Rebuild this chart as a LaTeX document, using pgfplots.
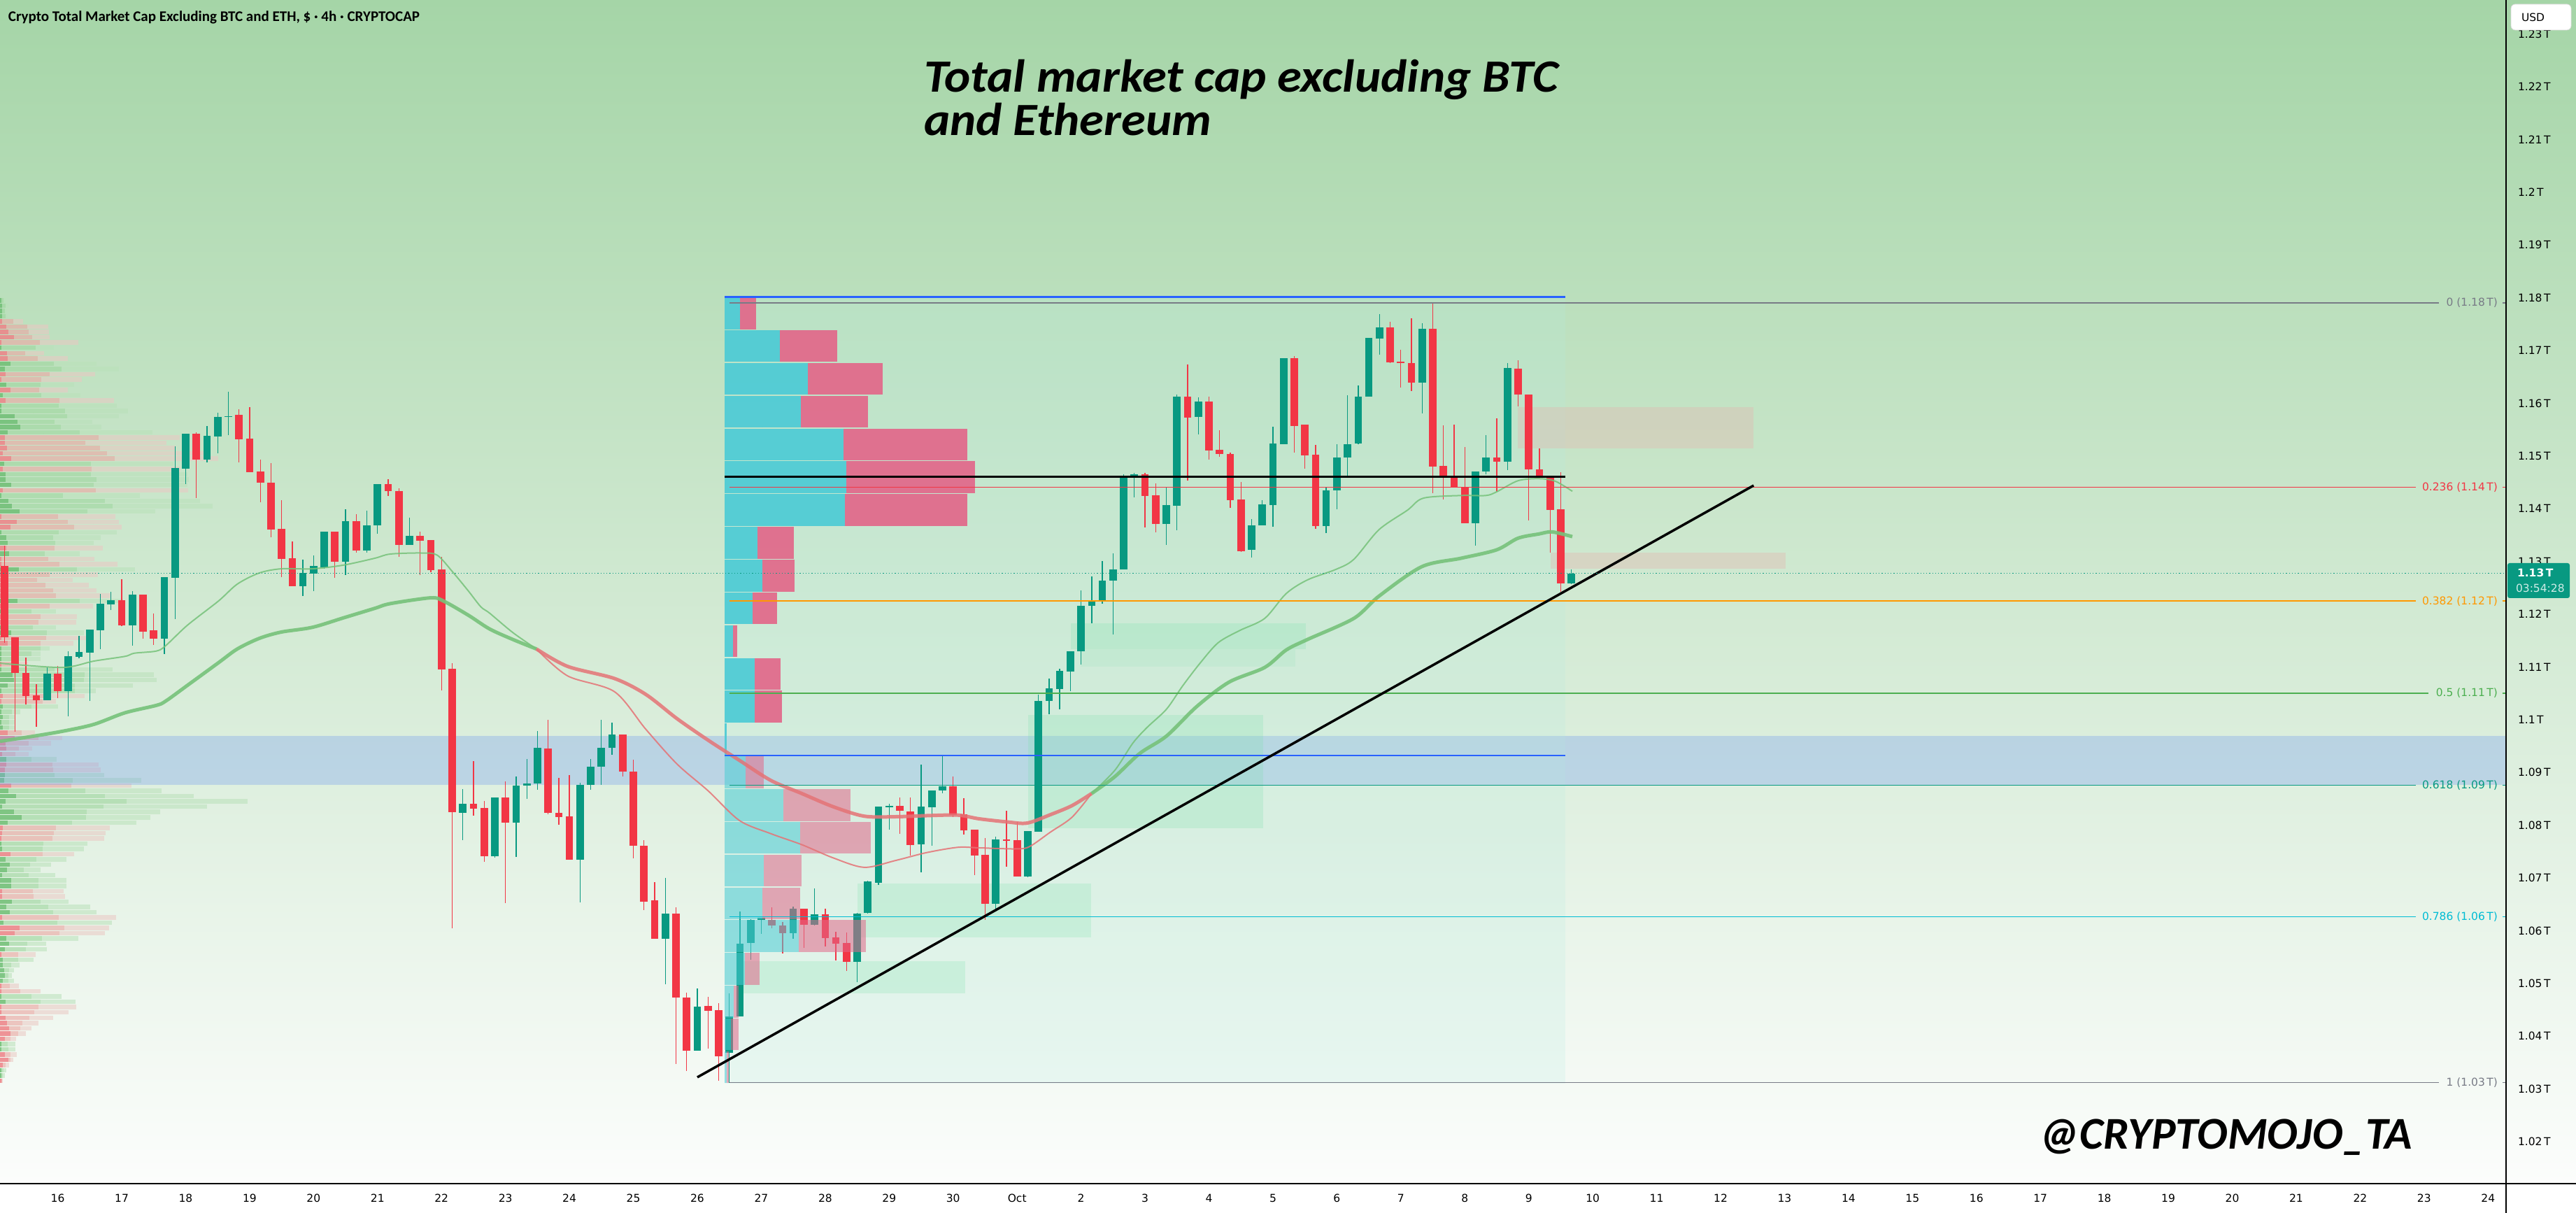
\documentclass[border=0pt]{standalone}
\usepackage{pgfplots}
\pgfplotsset{compat=1.18}
\usepackage{pgfplotstable}
\usepackage{fontspec}
\setmainfont{DejaVu Sans}
\newfontfamily\carlito{Carlito}
\definecolor{tvgreen}{RGB}{8,153,129}
\definecolor{tvred}{RGB}{242,54,69}
\definecolor{bgtop}{RGB}{165,213,167}
\definecolor{bgbot}{RGB}{252,253,252}
\definecolor{band}{RGB}{108,151,242}
\definecolor{magreen}{RGB}{118,194,122}
\definecolor{mared}{RGB}{229,115,118}
\definecolor{pcyan}{RGB}{77,203,213}
\definecolor{ppink}{RGB}{226,104,138}
\definecolor{fvg}{RGB}{120,225,170}
\definecolor{tanbox}{RGB}{230,180,175}
\definecolor{tvblue}{RGB}{41,98,255}
\definecolor{fibgrey}{RGB}{120,123,134}
\definecolor{fibred}{RGB}{242,54,69}
\definecolor{fiborange}{RGB}{255,152,0}
\definecolor{fibgreen}{RGB}{76,175,80}
\definecolor{fibteal}{RGB}{8,153,129}
\definecolor{fibcyan}{RGB}{0,188,212}
\definecolor{gDark}{RGB}{110,190,115}
\definecolor{gMid}{RGB}{160,215,160}
\definecolor{gLight}{RGB}{185,225,185}
\definecolor{rDark}{RGB}{238,130,135}
\definecolor{rMid}{RGB}{235,170,165}
\definecolor{rLight}{RGB}{235,200,195}

\pgfplotstableread{
n o h l c
-1 1.1037 1.1099 1.1037 1.1087
1 1.1054 1.1130 1.1007 1.1121
2 1.1119 1.1159 1.1116 1.1129
3 1.1127 1.1171 1.1035 1.1171
4 1.1170 1.1238 1.1133 1.1220
5 1.1219 1.1242 1.1208 1.1226
7 1.1179 1.1244 1.1140 1.1237
10 1.1153 1.1271 1.1124 1.1271
11 1.1269 1.1518 1.1191 1.1477
12 1.1476 1.1542 1.1447 1.1542
14 1.1493 1.1557 1.1488 1.1538
15 1.1537 1.1582 1.1505 1.1574
16 1.1574 1.1622 1.1539 1.1576
23 1.1253 1.1303 1.1235 1.1278
24 1.1277 1.1312 1.1244 1.1291
25 1.1289 1.1357 1.1286 1.1357
27 1.1300 1.1399 1.1274 1.1376
29 1.1321 1.1396 1.1317 1.1368
30 1.1368 1.1447 1.1353 1.1447
33 1.1332 1.1383 1.1332 1.1348
38 1.0824 1.0869 1.0772 1.0841
41 1.0741 1.0853 1.0738 1.0853
43 1.0805 1.0892 1.0740 1.0875
44 1.0875 1.0925 1.0850 1.0879
45 1.0879 1.0979 1.0867 1.0946
49 1.0735 1.0880 1.0654 1.0877
50 1.0876 1.0926 1.0867 1.0911
51 1.0911 1.1000 1.0877 1.0946
52 1.0947 1.0994 1.0933 1.0972
57 1.0585 1.0700 1.0498 1.0632
60 1.0372 1.0490 1.0372 1.0456
63 1.0368 1.0481 1.0312 1.0438
64 1.0438 1.0637 1.0438 1.0576
65 1.0576 1.0622 1.0545 1.0620
66 1.0620 1.0624 1.0594 1.0624
69 1.0595 1.0645 1.0584 1.0642
71 1.0611 1.0680 1.0610 1.0631
75 1.0541 1.0633 1.0502 1.0633
76 1.0633 1.0695 1.0633 1.0693
77 1.0691 1.0835 1.0687 1.0835
78 1.0834 1.0840 1.0791 1.0837
81 1.0763 1.0915 1.0710 1.0835
82 1.0834 1.0866 1.0761 1.0866
83 1.0866 1.0931 1.0860 1.0874
88 1.0651 1.0778 1.0637 1.0773
91 1.0703 1.0789 1.0701 1.0789
92 1.0787 1.1048 1.0787 1.1036
93 1.1036 1.1078 1.1010 1.1059
94 1.1058 1.1097 1.1020 1.1092
95 1.1091 1.1130 1.1054 1.1130
96 1.1130 1.1245 1.1104 1.1216
97 1.1216 1.1271 1.1183 1.1225
98 1.1225 1.1301 1.1220 1.1264
99 1.1264 1.1316 1.1161 1.1285
100 1.1285 1.1465 1.1285 1.1462
101 1.1462 1.1468 1.1421 1.1465
104 1.1371 1.1441 1.1332 1.1407
105 1.1406 1.1617 1.1359 1.1613
107 1.1574 1.1611 1.1541 1.1603
112 1.1322 1.1380 1.1308 1.1369
113 1.1369 1.1416 1.1369 1.1408
114 1.1407 1.1555 1.1366 1.1523
115 1.1523 1.1685 1.1523 1.1685
119 1.1367 1.1441 1.1354 1.1435
120 1.1435 1.1522 1.1399 1.1497
121 1.1497 1.1615 1.1460 1.1523
122 1.1523 1.1634 1.1523 1.1613
123 1.1613 1.1724 1.1613 1.1724
124 1.1723 1.1769 1.1692 1.1744
128 1.1639 1.1752 1.1580 1.1741
133 1.1372 1.1470 1.1330 1.1470
134 1.1470 1.1539 1.1465 1.1497
136 1.1489 1.1676 1.1473 1.1667
142 1.1259 1.1285 1.1257 1.1277
}\gcandles

\pgfplotstableread{
n o h l c
-5 1.1292 1.1330 1.1145 1.1156
-4 1.1156 1.1156 1.0977 1.1088
-3 1.1088 1.1118 1.1029 1.1045
-2 1.1046 1.1067 1.0987 1.1037
0 1.1087 1.1102 1.1041 1.1054
6 1.1226 1.1267 1.1178 1.1179
8 1.1237 1.1237 1.1154 1.1167
9 1.1169 1.1201 1.1142 1.1153
13 1.1542 1.1545 1.1420 1.1493
17 1.1578 1.1589 1.1488 1.1532
18 1.1533 1.1593 1.1469 1.1469
19 1.1471 1.1493 1.1412 1.1450
20 1.1450 1.1487 1.1346 1.1360
21 1.1362 1.1416 1.1271 1.1305
22 1.1306 1.1338 1.1253 1.1253
26 1.1357 1.1357 1.1269 1.1300
28 1.1376 1.1389 1.1317 1.1321
31 1.1447 1.1456 1.1424 1.1433
32 1.1434 1.1439 1.1309 1.1332
34 1.1348 1.1356 1.1274 1.1339
35 1.1341 1.1341 1.1280 1.1284
36 1.1285 1.1309 1.1056 1.1095
37 1.1096 1.1107 1.0605 1.0824
39 1.0841 1.0922 1.0818 1.0831
40 1.0833 1.0846 1.0730 1.0741
42 1.0853 1.0883 1.0652 1.0805
46 1.0946 1.1000 1.0821 1.0824
47 1.0824 1.0890 1.0801 1.0816
48 1.0817 1.0895 1.0735 1.0735
53 1.0972 1.0972 1.0892 1.0901
54 1.0901 1.0924 1.0737 1.0761
55 1.0761 1.0772 1.0639 1.0655
56 1.0657 1.0692 1.0585 1.0585
58 1.0632 1.0644 1.0347 1.0473
59 1.0473 1.0483 1.0334 1.0372
61 1.0457 1.0474 1.0376 1.0448
62 1.0449 1.0462 1.0315 1.0362
67 1.0620 1.0645 1.0604 1.0610
68 1.0610 1.0616 1.0557 1.0595
70 1.0642 1.0642 1.0568 1.0611
72 1.0631 1.0642 1.0570 1.0586
73 1.0587 1.0598 1.0543 1.0576
74 1.0577 1.0597 1.0524 1.0541
79 1.0837 1.0853 1.0784 1.0827
80 1.0826 1.0853 1.0743 1.0763
84 1.0874 1.0892 1.0816 1.0819
85 1.0821 1.0851 1.0782 1.0790
86 1.0791 1.0791 1.0705 1.0743
87 1.0744 1.0775 1.0620 1.0651
89 1.0773 1.0827 1.0721 1.0770
90 1.0771 1.0806 1.0703 1.0703
102 1.1465 1.1468 1.1364 1.1424
103 1.1425 1.1448 1.1355 1.1371
106 1.1613 1.1674 1.1453 1.1573
108 1.1603 1.1613 1.1493 1.1511
109 1.1512 1.1549 1.1498 1.1504
110 1.1504 1.1507 1.1401 1.1416
111 1.1417 1.1451 1.1318 1.1320
116 1.1685 1.1690 1.1506 1.1557
117 1.1559 1.1559 1.1476 1.1501
118 1.1503 1.1521 1.1362 1.1367
125 1.1744 1.1755 1.1676 1.1678
126 1.1679 1.1701 1.1630 1.1676
127 1.1676 1.1761 1.1623 1.1639
129 1.1741 1.1789 1.1429 1.1480
130 1.1481 1.1558 1.1418 1.1459
131 1.1459 1.1559 1.1442 1.1442
132 1.1442 1.1517 1.1372 1.1372
135 1.1497 1.1572 1.1432 1.1489
137 1.1666 1.1681 1.1594 1.1616
138 1.1616 1.1616 1.1378 1.1474
139 1.1475 1.1514 1.1460 1.1460
140 1.1462 1.1462 1.1317 1.1398
141 1.1399 1.1469 1.1242 1.1259
}\rcandles

% visible-range volume profile (lengths in screen px from left edge)
\pgfplotstableread{
p a b c
1.1795 2 5 8
1.1785 3 8 12
1.1775 3 7 9
1.1765 3 8 11
1.1705 2 51 77
1.1675 15 77 138
1.1665 7 88 170
1.1635 9 58 106
1.1615 4 59 115
1.1595 1 84 167
1.1585 1 93 183
1.1575 21 96 170
1.1565 25 78 132
1.1555 29 87 145
1.1545 11 114 218
1.1485 6 130 248
1.1465 8 130 268
1.1455 8 138 270
1.1445 16 134 268
1.1425 2 90 200
1.1415 12 150 286
1.1405 17 161 304
1.1395 28 125 222
1.1355 1 84 167
1.1345 9 76 144
1.1335 11 79 134
1.1315 13 64 114
1.1285 27 110 193
1.1225 25 114 176
1.1205 2 45 80
1.1175 2 47 80
1.1165 16 67 120
1.1135 2 58 71
1.1125 2 45 58
1.1115 2 27 58
1.1095 2 78 161
1.1085 18 121 220
1.1075 20 120 224
1.1065 11 107 190
1.1055 2 107 137
1.1025 4 45 83
1.1015 2 17 29
1.1005 4 13 21
1.0995 2 13 21
1.0985 4 13 21
1.0925 9 45 81
1.0895 7 78 149
1.0885 6 104 202
1.0865 12 122 231
1.0855 23 150 277
1.0845 8 181 354
1.0835 3 148 296
1.0825 20 124 229
1.0815 31 123 215
1.0805 11 103 195
1.0765 1 62 125
1.0755 3 61 120
1.0735 8 52 95
1.0725 14 43 73
1.0715 10 34 58
1.0705 3 41 79
1.0695 16 55 95
1.0685 16 55 95
1.0655 17 58 98
1.0645 9 69 129
1.0635 14 76 138
1.0615 5 82 160
1.0585 9 60 112
1.0575 13 39 66
1.0565 7 37 67
1.0545 4 26 48
1.0535 4 16 28
1.0525 6 13 20
1.0515 7 12 17
1.0505 4 12 20
1.0475 2 45 88
1.0465 8 58 108
1.0385 1 11 22
1.0375 2 12 22
1.0335 1 5 9
1.0325 1 4 7
}\gprof

\pgfplotstableread{
p a b c
1.1755 3 19 33
1.1745 9 39 69
1.1735 12 41 70
1.1725 20 46 71
1.1715 1 57 112
1.1695 10 36 63
1.1685 11 54 97
1.1655 8 71 136
1.1645 2 59 117
1.1625 15 56 97
1.1605 8 85 163
1.1535 7 141 257
1.1525 7 122 238
1.1515 10 143 251
1.1505 4 153 295
1.1495 16 164 312
1.1475 4 131 258
1.1435 4 137 269
1.1385 2 83 165
1.1375 24 97 170
1.1365 15 106 174
1.1325 9 78 147
1.1305 2 69 135
1.1295 1 85 168
1.1275 2 71 140
1.1265 2 53 104
1.1255 2 65 127
1.1245 2 76 138
1.1235 2 80 158
1.1215 2 71 133
1.1195 2 58 110
1.1185 2 55 109
1.1155 2 66 125
1.1145 11 58 105
1.1105 1 18 40
1.1045 4 63 121
1.1035 2 61 80
1.0975 11 31 50
1.0965 21 55 89
1.0955 8 41 73
1.0945 9 27 46
1.0935 3 22 41
1.0915 9 75 141
1.0905 7 76 144
1.0875 16 102 188
1.0795 4 80 157
1.0785 3 77 151
1.0775 1 75 149
1.0745 15 61 106
1.0675 3 47 91
1.0665 3 48 93
1.0625 3 84 166
1.0605 28 92 156
1.0595 21 85 150
1.0555 1 26 51
1.0495 1 14 27
1.0485 1 29 58
1.0455 2 55 109
1.0445 1 49 98
1.0435 8 42 76
1.0425 10 32 55
1.0415 13 29 45
1.0405 15 26 37
1.0395 7 15 23
1.0365 7 15 24
1.0355 12 15 19
1.0345 4 8 13
1.0315 1 2 4
}\rprof

% fixed-range volume profile (screen px: start, buy end, sell end)
\pgfplotstableread{
p a b c
1.17704 1036 1058 1081
1.17083 1036 1115 1197
1.16461 1036 1155 1262
1.15840 1036 1145 1241
1.15218 1036 1206 1383
1.14597 1036 1210 1394
1.13975 1036 1208 1383
1.13354 1036 1083 1135
1.12732 1036 1090 1136
1.12111 1036 1076 1111
1.11489 1036 1048 1054
1.10868 1036 1079 1116
1.10246 1036 1079 1118
1.09625 1036 1039 1039
}\frupper
\pgfplotstableread{
p a b c
1.09003 1036 1066 1092
1.08382 1036 1120 1216
1.07760 1036 1144 1245
1.07139 1036 1092 1146
1.06517 1036 1090 1144
1.05896 1036 1142 1238
1.05275 1036 1065 1086
1.04653 1036 1049 1056
1.04032 1036 1045 1056
1.03410 1036 1039 1042
}\frlower

\pgfplotsset{
  hbar/.style n args={3}{draw=none, mark=none, forget plot,
    error bars/.cd, x dir=both, x explicit, error mark=none,
    error bar style={line width=#1, draw=#2, opacity=#3}},
  vbar/.style n args={2}{draw=none, mark=none, forget plot,
    error bars/.cd, y dir=both, y explicit, error mark=none,
    error bar style={line width=#1, draw=#2}},
}

\begin{document}
\begin{tikzpicture}[x=1pt,y=1pt]
\fill[white] (0,-8.4) rectangle (736.6,338.4);
\shade[top color=bgtop, bottom color=bgbot] (0,0) rectangle (736.6,338.4);
\begin{axis}[
  at={(0,0)}, anchor=south west, scale only axis,
  width=716.6pt, height=338.4pt,
  xmin=-5.42, xmax=229.69, ymin=1.01204, ymax=1.23645,
  axis line style={draw=none}, major tick length=0pt, tick style={draw=none},
  xtick={0,6,...,228},
  xticklabels={16,17,18,19,20,21,22,23,24,25,26,27,28,29,30,Oct,2,3,4,5,6,7,8,9,10,11,12,13,14,15,16,17,18,19,20,21,22,23,24},
  ytick={1.02,1.03,1.04,1.05,1.06,1.07,1.08,1.09,1.10,1.11,1.12,1.13,1.14,1.15,1.16,1.17,1.18,1.19,1.20,1.21,1.22,1.23},
  yticklabels={1.02\,T,1.03\,T,1.04\,T,1.05\,T,1.06\,T,1.07\,T,1.08\,T,1.09\,T,1.1\,T,1.11\,T,1.12\,T,1.13\,T,1.14\,T,1.15\,T,1.16\,T,1.17\,T,1.18\,T,1.19\,T,1.2\,T,1.21\,T,1.22\,T,1.23\,T},
  yticklabel pos=right,
  ticklabel style={font=\fontsize{3.1}{3.8}\selectfont, text=black},
  yticklabel style={anchor=west, inner sep=0pt, xshift=3.2pt},
  xticklabel style={anchor=center, inner sep=0pt, yshift=-4.2pt},
  clip=true,
]
% left visible-range profile
\addplot[hbar={1.3pt}{gLight}{0.55}] table[y=p, x expr={((\thisrow{b}+\thisrow{c})/2-82.6)/15.24}, x error expr={(\thisrow{c}-\thisrow{b})/30.48}] {\gprof};
\addplot[hbar={1.3pt}{gMid}{0.65}] table[y=p, x expr={((\thisrow{a}+\thisrow{b})/2-82.6)/15.24}, x error expr={(\thisrow{b}-\thisrow{a})/30.48}] {\gprof};
\addplot[hbar={1.3pt}{gDark}{0.85}] table[y=p, x expr={(\thisrow{a}/2-82.6)/15.24}, x error expr={\thisrow{a}/30.48}] {\gprof};
\addplot[hbar={1.3pt}{rLight}{0.55}] table[y=p, x expr={((\thisrow{b}+\thisrow{c})/2-82.6)/15.24}, x error expr={(\thisrow{c}-\thisrow{b})/30.48}] {\rprof};
\addplot[hbar={1.3pt}{rMid}{0.65}] table[y=p, x expr={((\thisrow{a}+\thisrow{b})/2-82.6)/15.24}, x error expr={(\thisrow{b}-\thisrow{a})/30.48}] {\rprof};
\addplot[hbar={1.3pt}{rDark}{0.85}] table[y=p, x expr={(\thisrow{a}/2-82.6)/15.24}, x error expr={\thisrow{a}/30.48}] {\rprof};

% blue support band
\addplot[draw=none, fill=band, fill opacity=0.3, forget plot] coordinates {(-5.42,1.0969) (229.69,1.0969) (229.69,1.0876) (-5.42,1.0876)};

% fixed range background
\addplot[draw=none, fill={rgb,255:red,180;green,235;blue,225}, fill opacity=0.2, forget plot] coordinates {(62.56,1.1801) (141.43,1.1801) (141.43,1.0310) (62.56,1.0310)};

% FVG zones
\addplot[draw=none, fill=fvg, fill opacity=0.22, forget plot] coordinates {(95.04,1.11828) (117.09,1.11828) (117.09,1.11337) (95.04,1.11337)};
\addplot[draw=none, fill=fvg, fill opacity=0.12, forget plot] coordinates {(95.96,1.11337) (116.1,1.11337) (116.1,1.11000) (95.96,1.11000)};
\addplot[draw=none, fill=fvg, fill opacity=0.22, forget plot] coordinates {(91.04,1.10090) (113.08,1.10090) (113.08,1.07942) (91.04,1.07942)};
\addplot[draw=none, fill=fvg, fill opacity=0.22, forget plot] coordinates {(75.03,1.06894) (96.94,1.06894) (96.94,1.05873) (75.03,1.05873)};
\addplot[draw=none, fill=fvg, fill opacity=0.22, forget plot] coordinates {(64.14,1.05422) (85.13,1.05422) (85.13,1.04812) (64.14,1.04812)};
% supply boxes
\addplot[draw=none, fill=tanbox, fill opacity=0.35, forget plot] coordinates {(136.97,1.15926) (159.08,1.15926) (159.08,1.15143) (136.97,1.15143)};
\addplot[draw=none, fill=tanbox, fill opacity=0.35, forget plot] coordinates {(140.05,1.13167) (162.1,1.13167) (162.1,1.12862) (140.05,1.12862)};

% candles
\addplot[vbar={0.26pt}{tvgreen}] table[x=n, y expr={(\thisrow{h}+\thisrow{l})/2}, y error expr={(\thisrow{h}-\thisrow{l})/2}] {\gcandles};
\addplot[vbar={2.14pt}{tvgreen}] table[x=n, y expr={(\thisrow{o}+\thisrow{c})/2}, y error expr={max(abs(\thisrow{c}-\thisrow{o})/2,0.0001)}] {\gcandles};
\addplot[vbar={0.26pt}{tvred}] table[x=n, y expr={(\thisrow{h}+\thisrow{l})/2}, y error expr={(\thisrow{h}-\thisrow{l})/2}] {\rcandles};
\addplot[vbar={2.14pt}{tvred}] table[x=n, y expr={(\thisrow{o}+\thisrow{c})/2}, y error expr={max(abs(\thisrow{c}-\thisrow{o})/2,0.0001)}] {\rcandles};

% fixed range profile
\addplot[hbar={9.1pt}{pcyan}{0.92}] table[y=p, x expr={((\thisrow{a}+\thisrow{b})/2-82.6)/15.24}, x error expr={(\thisrow{b}-\thisrow{a})/30.48}] {\frupper};
\addplot[hbar={9.1pt}{ppink}{0.92}] table[y=p, x expr={((\thisrow{b}+\thisrow{c})/2-82.6)/15.24}, x error expr={(\thisrow{c}-\thisrow{b})/30.48}] {\frupper};
\addplot[hbar={9.1pt}{pcyan}{0.55}] table[y=p, x expr={((\thisrow{a}+\thisrow{b})/2-82.6)/15.24}, x error expr={(\thisrow{b}-\thisrow{a})/30.48}] {\frlower};
\addplot[hbar={9.1pt}{ppink}{0.55}] table[y=p, x expr={((\thisrow{b}+\thisrow{c})/2-82.6)/15.24}, x error expr={(\thisrow{c}-\thisrow{b})/30.48}] {\frlower};

% moving averages
\addplot[magreen, line width=1.0pt, opacity=0.9, smooth, forget plot] coordinates {(-5.42,1.0959) (-2.49,1.0968) (0.44,1.0978) (3.37,1.0991) (6.30,1.1013) (9.23,1.1027) (10.11,1.1035) (12.16,1.1065) (15.08,1.1108) (16.84,1.1134) (18.89,1.1154) (20.94,1.1166) (23.87,1.1175) (26.80,1.1193) (29.73,1.1211) (31.19,1.1220) (35.0,1.1231) (36.18,1.1225) (38.52,1.1198) (40.51,1.1172) (42.7,1.1152) (44.91,1.1134)};
\addplot[mared, line width=1.0pt, opacity=0.85, smooth, forget plot] coordinates {(44.91,1.1134) (47.83,1.1101) (52.23,1.1078) (55.16,1.1048) (58.09,1.1002) (61.02,1.0961) (63.94,1.0923) (66.88,1.0885) (69.80,1.0860) (72.74,1.0835) (75.66,1.0817) (78.60,1.0816) (81.52,1.0818) (84.45,1.0819) (86.44,1.0812) (89.12,1.0806) (90.96,1.0804) (93.14,1.0820) (95.15,1.0837) (96.99,1.0860)};
\addplot[magreen, line width=1.0pt, opacity=0.9, smooth, forget plot] coordinates {(96.99,1.0860) (99.17,1.0892) (101.51,1.0936) (104.02,1.0969) (106.86,1.1025) (109.87,1.1071) (113.23,1.1099) (115.24,1.1132) (117.24,1.1152) (121.59,1.1192) (123.94,1.1234) (127.96,1.1290) (131.64,1.1306) (134.99,1.1322) (136.99,1.1344) (138.94,1.1352) (140.19,1.1356) (142.09,1.1347)};
\addplot[magreen, line width=0.4pt, opacity=0.85, smooth, forget plot] coordinates {(-5.42,1.1107) (0.44,1.1099) (3.37,1.1111) (6.30,1.1120) (7.18,1.1126) (9.23,1.1130) (10.11,1.1140) (12.16,1.1179) (15.08,1.1225) (16.84,1.1257) (18.89,1.1278) (20.94,1.1286) (23.87,1.1286) (26.80,1.1293) (29.73,1.1306) (31.19,1.1314) (34.13,1.1316) (35.59,1.1312) (37.05,1.1280) (38.52,1.1244) (39.69,1.1214) (40.51,1.1202) (42.7,1.1165) (44.91,1.1134)};
\addplot[mared, line width=0.4pt, opacity=0.85, smooth, forget plot] coordinates {(44.91,1.1134) (47.83,1.1083) (52.23,1.1053) (55.16,1.0982) (58.09,1.0916) (61.02,1.0865) (63.94,1.0809) (66.88,1.0784) (69.80,1.0763) (72.74,1.0738) (75.66,1.0720) (78.60,1.0733) (81.52,1.0748) (84.45,1.0758) (86.44,1.0757) (89.79,1.0755) (91.13,1.0759) (93.14,1.0787) (95.15,1.0815) (96.99,1.0860)};
\addplot[magreen, line width=0.4pt, opacity=0.85, smooth, forget plot] coordinates {(96.99,1.0860) (99.17,1.0904) (100.84,1.0955) (102.18,1.0985) (104.02,1.1020) (105.53,1.1064) (107.20,1.1108) (108.87,1.1146) (110.88,1.1169) (113.23,1.1192) (115.24,1.1239) (117.24,1.1265) (119.92,1.1285) (121.59,1.1304) (123.94,1.1360) (126.61,1.1397) (128.12,1.1420) (131.64,1.1425) (133.98,1.1425) (134.99,1.1432) (136.99,1.1453) (138.94,1.1457) (140.5,1.1452) (142.09,1.1433)};

% fibonacci levels
\addplot[fibgrey, line width=0.28pt, forget plot] coordinates {(63.02,1.1790) (223.38,1.1790)};
\addplot[fibgrey, line width=0.28pt, forget plot] coordinates {(229.36,1.1790) (229.69,1.1790)};
\addplot[fibred, line width=0.28pt, forget plot] coordinates {(63.02,1.1441) (221.22,1.1441)};
\addplot[fibred, line width=0.28pt, forget plot] coordinates {(229.36,1.1441) (229.69,1.1441)};
\addplot[fiborange, line width=0.28pt, forget plot] coordinates {(63.02,1.1225) (221.22,1.1225)};
\addplot[fiborange, line width=0.28pt, forget plot] coordinates {(229.36,1.1225) (229.69,1.1225)};
\addplot[fibgreen, line width=0.28pt, forget plot] coordinates {(63.02,1.1050) (222.4,1.1050)};
\addplot[fibgreen, line width=0.28pt, forget plot] coordinates {(229.36,1.1050) (229.69,1.1050)};
\addplot[fibteal, line width=0.28pt, forget plot] coordinates {(63.02,1.0876) (221.22,1.0876)};
\addplot[fibteal, line width=0.28pt, forget plot] coordinates {(229.36,1.0876) (229.69,1.0876)};
\addplot[fibcyan, line width=0.28pt, forget plot] coordinates {(63.02,1.0626) (221.22,1.0626)};
\addplot[fibcyan, line width=0.28pt, forget plot] coordinates {(229.36,1.0626) (229.69,1.0626)};
\addplot[fibgrey, line width=0.28pt, forget plot] coordinates {(63.02,1.0312) (223.38,1.0312)};
\addplot[fibgrey, line width=0.28pt, forget plot] coordinates {(229.36,1.0312) (229.69,1.0312)};

% range lines
\addplot[tvblue, line width=0.55pt, forget plot] coordinates {(62.56,1.1801) (141.43,1.1801)};
\addplot[tvblue, line width=0.55pt, forget plot] coordinates {(62.56,1.0932) (141.43,1.0932)};
\addplot[black, line width=0.6pt, forget plot] coordinates {(62.56,1.1460) (141.43,1.1460)};
% trend line
\addplot[black, line width=0.7pt, forget plot] coordinates {(60.0,1.0322) (159.1,1.1444)};
% current price line
\addplot[tvgreen, line width=0.22pt, dash pattern=on 0.25pt off 0.6pt, forget plot] coordinates {(-5.42,1.1277) (229.69,1.1277)};
\end{axis}

% frame
\draw[black, line width=0.3pt] (716.6,-8.4) -- (716.6,338.4);
\draw[black, line width=0.3pt] (0,0) -- (736.6,0);

% fib labels
\begin{scope}[every node/.style={anchor=east, inner sep=0pt, font=\fontsize{3.1}{3.8}\selectfont}]
\node[text=fibgrey] at (714.4,251.8) {0 (1.18\,T)};
\node[text=fibred] at (714.4,199.14) {0.236 (1.14\,T)};
\node[text=fiborange] at (714.4,166.5) {0.382 (1.12\,T)};
\node[text=fibgreen] at (714.4,140.22) {0.5 (1.11\,T)};
\node[text=fibteal] at (714.4,113.94) {0.618 (1.09\,T)};
\node[text=fibcyan] at (714.4,76.3) {0.786 (1.06\,T)};
\node[text=fibgrey] at (714.4,28.82) {1 (1.03\,T)};
\end{scope}

% current price tag
\fill[tvgreen, rounded corners=0.6pt] (717,167.4) rectangle (734.8,177.4);
\node[anchor=west, inner sep=0pt, text=white, font=\fontsize{3.1}{3.8}\selectfont\bfseries] at (719.6,174.6) {1.13\,T};
\node[anchor=west, inner sep=0pt, text=white!80!tvgreen, font=\fontsize{3.1}{3.8}\selectfont] at (719.2,170.2) {03:54:28};

% USD box
\draw[rounded corners=1.2pt, fill=white, draw=black!15, line width=0.15pt] (718,329.8) rectangle (735.2,337.2);
\node[anchor=west, inner sep=0pt, font=\fontsize{3.1}{3.8}\selectfont] at (720.8,333.5) {USD};

% header
\node[anchor=base west, inner sep=0pt, font=\carlito\bfseries\fontsize{4.2}{5}\selectfont] at (2.2,332.2) {Crypto Total Market Cap Excluding BTC and ETH, \$ · 4h · CRYPTOCAP};
% title
\node[anchor=north west, inner sep=0pt, align=left, font=\carlito\bfseries\itshape\fontsize{13.2}{12.4}\selectfont] at (264,321.6) {\scalebox{1.07}[1]{Total market cap excluding BTC}\\\scalebox{1.07}[1]{and Ethereum}};
% watermark
\node[anchor=base west, inner sep=0pt, font=\carlito\bfseries\itshape\fontsize{13}{14}\selectfont] at (582.8,9.8) {@CRYPTOMOJO\_TA};

\pgfresetboundingbox
\useasboundingbox (0,-8.4) rectangle (736.6,338.4);
\end{tikzpicture}
\end{document}
